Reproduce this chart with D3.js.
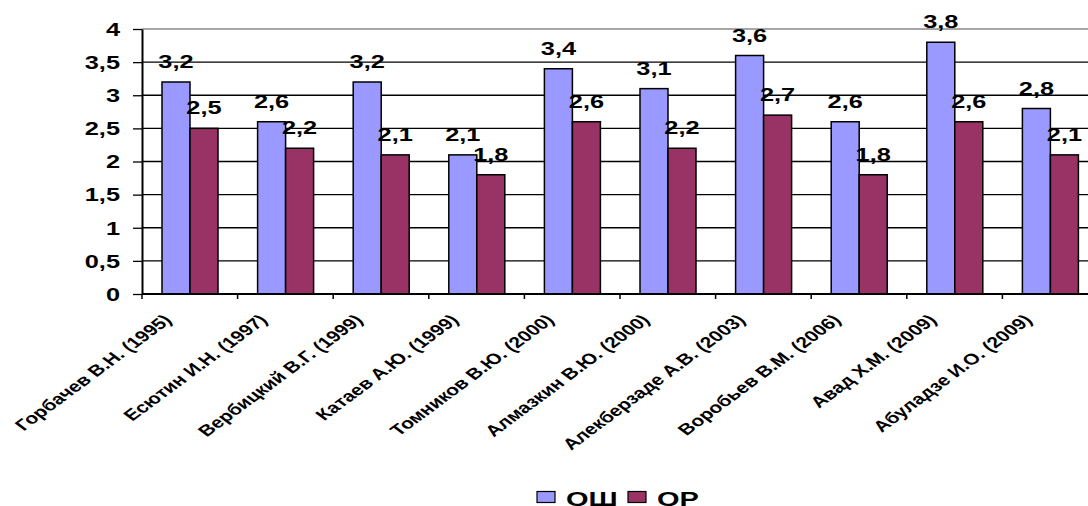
<!DOCTYPE html>
<html>
<head>
<meta charset="utf-8">
<script src="https://cdn.jsdelivr.net/npm/d3@7"></script>
<style>
  html, body { margin: 0; padding: 0; background: #fff; }
  svg { display: block; }
  text { font-family: "Liberation Sans", Arial, sans-serif; font-weight: bold; fill: #000; }
</style>
</head>
<body>
<svg id="chart" width="1088" height="506"></svg>
<script>
// Authors and publication years
const categories = [
  "Горбачев В.Н. (1995)",
  "Есютин И.Н. (1997)",
  "Вербицкий В.Г. (1999)",
  "Катаев А.Ю. (1999)",
  "Томников В.Ю. (2000)",
  "Алмазкин В.Ю. (2000)",
  "Алекберзаде А.В. (2003)",
  "Воробьев В.М. (2006)",
  "Авад Х.М. (2009)",
  "Абуладзе И.О. (2009)"
];
const seriesNames = ["ОШ", "ОР"];
const valuesOSh = [3.2, 2.6, 3.2, 2.1, 3.4, 3.1, 3.6, 2.6, 3.8, 2.8];
const valuesOR  = [2.5, 2.2, 2.1, 1.8, 2.6, 2.2, 2.7, 1.8, 2.6, 2.1];
const yTicks = [0, 0.5, 1, 1.5, 2, 2.5, 3, 3.5, 4];
const colors = ["#9999FF", "#993366"];

const fmt = v => String(v).replace(".", ",");
const SX = 1.45;   // horizontal text stretch for values, ticks and legend
const SXL = 1.35;  // horizontal stretch for slanted category labels

const svg = d3.select("#chart");
const W = 1088;
const left = 142, bandStep = 95.6;
const y0 = 294, yTop = 29;

const x = d3.scaleBand()
  .domain(categories)
  .range([left, left + bandStep * categories.length])
  .paddingInner(0).paddingOuter(0);

const inner = d3.scaleBand()
  .domain(seriesNames)
  .range([20, 76])
  .padding(0);

const y = d3.scaleLinear().domain([0, 4]).range([y0, yTop]);

// horizontal gridlines
svg.append("g").selectAll("line")
  .data(yTicks.filter(t => t > 0))
  .join("line")
  .attr("x1", left).attr("x2", W)
  .attr("y1", d => y(d)).attr("y2", d => y(d))
  .attr("stroke", d => d === 4 ? "#888" : "#000")
  .attr("stroke-width", 1.3);

// bars
const series = [valuesOSh, valuesOR];
series.forEach((vals, si) => {
  svg.append("g").selectAll("rect")
    .data(vals)
    .join("rect")
    .attr("x", (d, i) => x(categories[i]) + inner(seriesNames[si]))
    .attr("y", d => y(d))
    .attr("width", inner.bandwidth())
    .attr("height", d => y(0) - y(d))
    .attr("fill", colors[si])
    .attr("stroke", "#000")
    .attr("stroke-width", 1.5);
});

// value labels
series.forEach((vals, si) => {
  svg.append("g").selectAll("text")
    .data(vals)
    .join("text")
    .attr("transform", (d, i) => {
      const cx = x(categories[i]) + inner(seriesNames[si]) + inner.bandwidth() / 2;
      return `translate(${cx},${y(d) - 14}) scale(${SX},1)`;
    })
    .attr("text-anchor", "middle")
    .attr("font-size", 17.5)
    .text(d => fmt(d));
});

// y axis
const yAxis = svg.append("g")
  .attr("transform", `translate(${left},0)`)
  .call(d3.axisLeft(y).tickValues(yTicks).tickSize(9).tickSizeOuter(0).tickFormat(fmt));
yAxis.select(".domain").attr("stroke", "#000").attr("stroke-width", 2);
yAxis.selectAll(".tick line").attr("stroke", "#000").attr("stroke-width", 1.3);
yAxis.selectAll(".tick text")
  .attr("x", 0)
  .attr("dy", "0.36em")
  .attr("transform", `translate(-22,0) scale(${SX},1)`)
  .attr("font-size", 17.5)
  .attr("font-family", null)
  .attr("fill", "#000");

// x axis with ticks on category boundaries
const xEdges = categories.map(c => x(c));
svg.append("line")
  .attr("x1", left).attr("x2", W)
  .attr("y1", y0).attr("y2", y0)
  .attr("stroke", "#000").attr("stroke-width", 2);
svg.append("g").selectAll("line")
  .data(xEdges)
  .join("line")
  .attr("x1", d => d).attr("x2", d => d)
  .attr("y1", y0).attr("y2", y0 + 5)
  .attr("stroke", "#000").attr("stroke-width", 1.5);

// slanted category labels
svg.append("g").selectAll("text")
  .data(categories)
  .join("text")
  .attr("transform", d => `translate(${x(d) + x.bandwidth() / 2 - 17},${y0 + 27}) scale(${SXL},1) rotate(-45)`)
  .attr("text-anchor", "end")
  .attr("font-size", 15.5)
  .text(d => d);

// legend
const legend = svg.append("g");
const legendX = [537, 628];
seriesNames.forEach((name, i) => {
  legend.append("rect")
    .attr("x", legendX[i]).attr("y", 491.5)
    .attr("width", 18).attr("height", 11)
    .attr("fill", colors[i])
    .attr("stroke", "#000").attr("stroke-width", 1.2);
  legend.append("text")
    .attr("transform", `translate(${legendX[i] + 29},505.5) scale(${SX},1)`)
    .attr("font-size", 20)
    .text(name);
});
</script>
</body>
</html>
